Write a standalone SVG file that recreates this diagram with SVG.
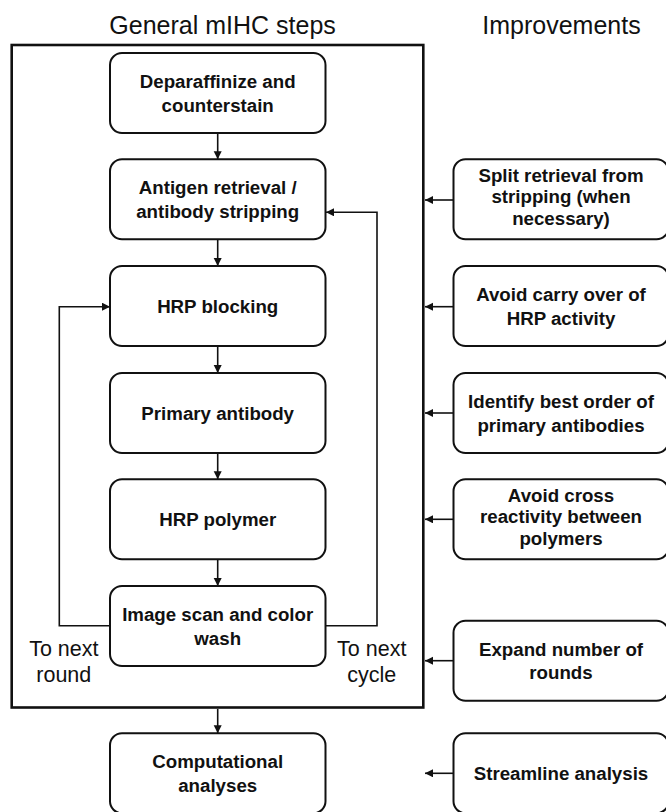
<svg xmlns="http://www.w3.org/2000/svg" width="666" height="812" viewBox="0 0 666 812">
<defs>
<marker id="ah" markerWidth="10" markerHeight="10" refX="8" refY="4" orient="auto" markerUnits="userSpaceOnUse">
<path d="M0,0 L8,4 L0,8 Z" fill="#111"/>
</marker>
<style>
.box{fill:#fff;stroke:#111;stroke-width:2}
.t{font-family:"Liberation Sans",Arial,sans-serif;font-weight:bold;font-size:18.7px;fill:#111;text-anchor:middle}
.h{font-family:"Liberation Sans",Arial,sans-serif;font-size:25px;fill:#111;text-anchor:middle}
.l{font-family:"Liberation Sans",Arial,sans-serif;font-size:21.5px;fill:#111;text-anchor:middle}
.c{fill:none;stroke:#111;stroke-width:1.6;marker-end:url(#ah)}
</style>
</defs>
<rect width="666" height="812" fill="#fff"/>
<text class="h" x="222.6" y="33.5">General mIHC steps</text>
<text class="h" x="561.5" y="33.5">Improvements</text>
<rect id="frame" x="11.7" y="45" width="411.6" height="662.5" fill="none" stroke="#111" stroke-width="2.6"/>

<g id="connectors">
<path class="c" d="M217.7,133 V159.3"/>
<path class="c" d="M217.7,239.3 V266"/>
<path class="c" d="M217.7,346 V373"/>
<path class="c" d="M217.7,453 V479.3"/>
<path class="c" d="M217.7,559.3 V586"/>
<path class="c" d="M217.7,709 V733.3"/>
<path class="c" d="M110,625.7 H59.3 V306.7 H110"/>
<path class="c" d="M326,625.7 H377 V212.3 H326"/>
<path class="c" d="M453.5,200 H425"/>
<path class="c" d="M453.5,306.7 H425"/>
<path class="c" d="M453.5,413 H425"/>
<path class="c" d="M453.5,519.3 H425"/>
<path class="c" d="M453.5,660.7 H425"/>
<path class="c" d="M453.5,773.3 H425"/>
</g>

<g id="n1"><rect class="box" x="110" y="53" width="215.5" height="80" rx="12"/>
<text class="t" x="217.7" y="88.3">Deparaffinize and</text><text class="t" x="217.7" y="111.7">counterstain</text></g>
<g id="n2"><rect class="box" x="110" y="159.3" width="215.5" height="80" rx="12"/>
<text class="t" x="217.7" y="194.4">Antigen retrieval /</text><text class="t" x="217.7" y="217.8">antibody stripping</text></g>
<g id="n3"><rect class="box" x="110" y="266" width="215.5" height="80" rx="12"/>
<text class="t" x="217.7" y="313">HRP blocking</text></g>
<g id="n4"><rect class="box" x="110" y="373" width="215.5" height="80" rx="12"/>
<text class="t" x="217.7" y="420">Primary antibody</text></g>
<g id="n5"><rect class="box" x="110" y="479.3" width="215.5" height="80" rx="12"/>
<text class="t" x="217.7" y="526.3">HRP polymer</text></g>
<g id="n6"><rect class="box" x="110" y="586" width="215.5" height="80" rx="12"/>
<text class="t" x="217.7" y="621.1">Image scan and color</text><text class="t" x="217.7" y="644.5">wash</text></g>
<g id="n7"><rect class="box" x="110" y="733.3" width="215.5" height="80" rx="12"/>
<text class="t" x="217.7" y="768.4">Computational</text><text class="t" x="217.7" y="791.8">analyses</text></g>

<g id="r1"><rect class="box" x="453.5" y="159.3" width="215" height="80" rx="12"/>
<text class="t" x="561" y="181.7">Split retrieval from</text><text class="t" x="561" y="203.3">stripping (when</text><text class="t" x="561" y="225">necessary)</text></g>
<g id="r2"><rect class="box" x="453.5" y="266" width="215" height="80" rx="12"/>
<text class="t" x="561" y="301">Avoid carry over of</text><text class="t" x="561" y="324.5">HRP activity</text></g>
<g id="r3"><rect class="box" x="453.5" y="373" width="215" height="80" rx="12"/>
<text class="t" x="561" y="408">Identify best order of</text><text class="t" x="561" y="431.5">primary antibodies</text></g>
<g id="r4"><rect class="box" x="453.5" y="479.3" width="215" height="80" rx="12"/>
<text class="t" x="561" y="501.7">Avoid cross</text><text class="t" x="561" y="523.3">reactivity between</text><text class="t" x="561" y="545">polymers</text></g>
<g id="r5"><rect class="box" x="453.5" y="620.7" width="215" height="80" rx="12"/>
<text class="t" x="561" y="655.8">Expand number of</text><text class="t" x="561" y="679.2">rounds</text></g>
<g id="r6"><rect class="box" x="453.5" y="733.3" width="215" height="80" rx="12"/>
<text class="t" x="561" y="780.3">Streamline analysis</text></g>

<g id="labels">
<text class="l" x="63.8" y="656">To next</text><text class="l" x="63.8" y="681.7">round</text>
<text class="l" x="371.7" y="656">To next</text><text class="l" x="371.7" y="681.7">cycle</text>
</g>
</svg>
